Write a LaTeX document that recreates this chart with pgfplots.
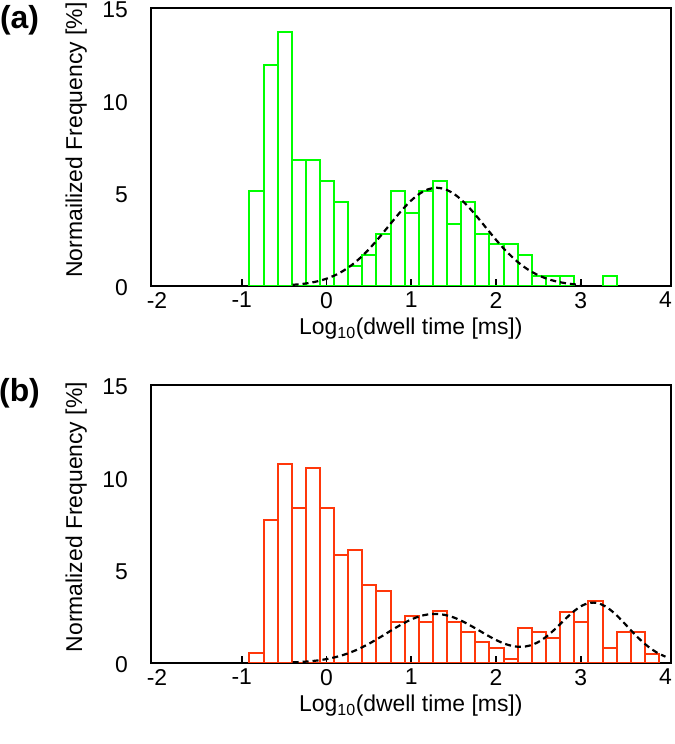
\documentclass[border=0pt]{standalone}
\usepackage{fontspec}
\setmainfont{Liberation Sans}
\usepackage{pgfplots}
\pgfplotsset{compat=1.18}
\definecolor{gr}{RGB}{0,255,0}
\definecolor{orr}{RGB}{255,55,10}
\newcommand\lf{\fontsize{23}{27}\selectfont}
\pgfplotsset{
 myax/.style={
  scale only axis, width=520.3bp, height=278bp,
  xmin=-2.074, xmax=4.065, ymin=0, ymax=15,
  axis line style={line width=1.6bp, black},
  xtick={-1,0,1,2,3}, xticklabels={-1,0,1,2,3},
  extra x ticks={-2,4}, extra x tick labels={-2,4},
  extra x tick style={major tick length=0pt},
  xtick pos=left, tick align=inside, major tick length=6.7bp,
  x tick style={line width=1.6bp, black},
  ytick={0,5,10,15}, yticklabels={0,5,10,15},
  y tick style={draw=none}, ytick pos=left,
  xticklabel style={font=\lf, inner sep=0pt, anchor=north, yshift=-6bp},
  yticklabel style={font=\lf, inner sep=0pt, anchor=east, xshift=-22.7bp, yshift=-1.5bp},
  xlabel={Log\textsubscript{10}(dwell time [ms])},
  xlabel style={font=\lf, at={(axis description cs:0.5,0)}, anchor=north, yshift=-32bp, inner sep=0pt},
  ylabel style={font=\lf, at={(axis description cs:-0.132,0.525)}, anchor=base, inner sep=0pt},
 },
 curve/.style={black, line width=2.2bp, dash pattern=on 6bp off 4bp, smooth},
}
\begin{document}
\begin{tikzpicture}
\path[use as bounding box] (0,0) rectangle (675bp,744bp);
\begin{axis}[myax, at={(150.7bp,458bp)}, anchor=south west,
  ylabel={Normailized Frequency [\%]}]
\addplot[ybar interval, draw=gr, fill=none, line width=2bp] coordinates {
(-0.91,5.1) (-0.743,11.9) (-0.577,13.7) (-0.41,6.8) (-0.243,6.8) (-0.077,5.65)
(0.09,4.55) (0.257,1.1) (0.423,1.65) (0.59,2.8) (0.757,5.1) (0.923,3.95)
(1.09,5.1) (1.257,5.65) (1.423,3.35) (1.59,4.55) (1.757,2.8) (1.923,2.25)
(2.09,2.25) (2.257,1.65) (2.423,0.55) (2.59,0.55) (2.757,0.55) (2.923,0)};
\addplot[ybar interval, draw=gr, fill=none, line width=2bp] coordinates {
(3.257,0.55) (3.423,0)};
\addplot[curve] coordinates {
(-0.4,0.062) (-0.3,0.103) (-0.2,0.166) (-0.1,0.260) (0.0,0.393) (0.1,0.578)
(0.2,0.824) (0.3,1.137) (0.4,1.524) (0.5,1.979) (0.6,2.494) (0.7,3.046)
(0.8,3.607) (0.9,4.143) (1.0,4.615) (1.1,4.984) (1.2,5.219) (1.3,5.3)
(1.4,5.219) (1.5,4.984) (1.6,4.615) (1.7,4.143) (1.8,3.607) (1.9,3.046)
(2.0,2.494) (2.1,1.979) (2.2,1.524) (2.3,1.137) (2.4,0.824) (2.5,0.578)
(2.6,0.393) (2.7,0.260) (2.8,0.166) (2.9,0.103) (3.0,0.062)};
\end{axis}
\begin{axis}[myax, at={(150.7bp,81bp)}, anchor=south west,
  ylabel={Normalized Frequency [\%]}]
\addplot[ybar interval, draw=orr, fill=none, line width=2bp] coordinates {
(-0.91,0.52) (-0.743,7.72) (-0.577,10.76) (-0.41,8.35) (-0.243,10.54) (-0.077,8.35)
(0.09,5.83) (0.257,6.1) (0.423,4.19) (0.59,3.9) (0.757,2.19) (0.923,2.54)
(1.09,2.19) (1.257,2.8) (1.423,2.19) (1.59,1.66) (1.757,1.12) (1.923,0.79)
(2.09,0.24) (2.257,1.91) (2.423,1.66) (2.59,1.37) (2.757,2.77) (2.923,2.19)
(3.09,3.35) (3.257,0.79) (3.423,1.66) (3.59,1.66) (3.757,0.49) (3.923,0)};
\addplot[curve] coordinates {
(-0.4,0.034) (-0.3,0.056) (-0.2,0.090) (-0.1,0.140) (0.0,0.211) (0.1,0.309)
(0.2,0.437) (0.3,0.601) (0.4,0.801) (0.5,1.036) (0.6,1.297) (0.7,1.576)
(0.8,1.857) (0.9,2.120) (1.0,2.348) (1.1,2.521) (1.2,2.624) (1.3,2.648)
(1.4,2.592) (1.5,2.459) (1.6,2.262) (1.7,2.018) (1.8,1.756) (1.9,1.489)
(2.0,1.242) (2.1,1.042) (2.2,0.911) (2.3,0.871) (2.4,0.942) (2.5,1.134)
(2.6,1.443) (2.7,1.844) (2.8,2.292) (2.9,2.719) (3.0,3.056) (3.1,3.241)
(3.2,3.234) (3.3,3.029) (3.4,2.673) (3.5,2.217) (3.6,1.726) (3.7,1.263)
(3.8,0.868) (3.9,0.560) (4.0,0.340)};
\end{axis}
\node[font=\fontsize{32}{36}\selectfont\bfseries] at (19.5bp,724bp) {(a)};
\node[font=\fontsize{32}{36}\selectfont\bfseries] at (19.5bp,351bp) {(b)};
\end{tikzpicture}
\end{document}
